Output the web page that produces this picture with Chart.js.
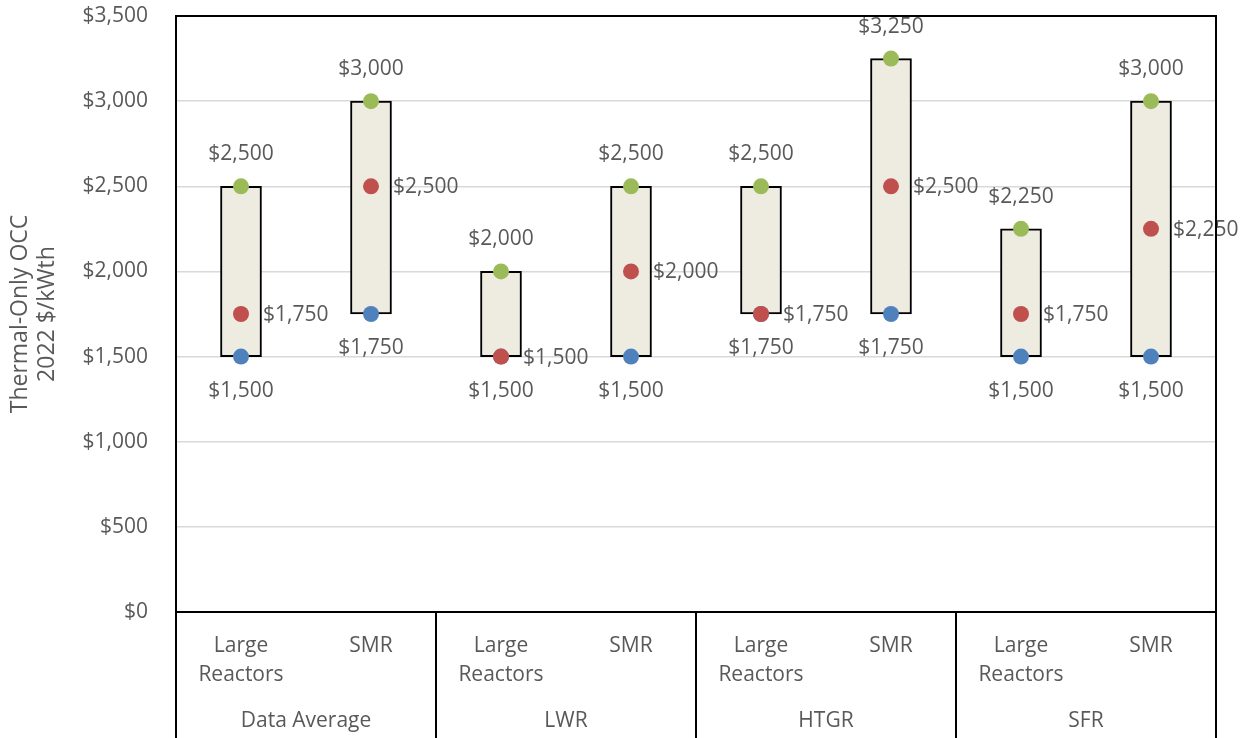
<!DOCTYPE html>
<html>
<head>
<meta charset="utf-8">
<script src="https://cdn.jsdelivr.net/npm/chart.js@4.4.0/dist/chart.umd.min.js"></script>
<style>
  body { margin: 0; background: #fff; }
  #wrap { width: 1247px; height: 738px; }
</style>
</head>
<body>
<div id="wrap"><canvas id="occChart" width="1247" height="738"></canvas></div>
<script>
const categories = [["Large", "Reactors"], "SMR", ["Large", "Reactors"], "SMR", ["Large", "Reactors"], "SMR", ["Large", "Reactors"], "SMR"];
const groups = ["Data Average", "LWR", "HTGR", "SFR"];
const minValues = [1500, 1750, 1500, 1500, 1750, 1750, 1500, 1500];
const midValues = [1750, 2500, 1500, 2000, 1750, 2500, 1750, 2250];
const maxValues = [2500, 3000, 2000, 2500, 2500, 3250, 2250, 3000];
const yTicks = [0, 500, 1000, 1500, 2000, 2500, 3000, 3500];

const FONT = "'Open Sans', 'Noto Sans', sans-serif";
const TEXT = "#595959";

function money(v) {
  return "$" + v.toLocaleString("en-US");
}

// etiquetas de valor em cima / embaixo / ao lado dos pontos
const pointLabels = {
  id: "pointLabels",
  afterDatasetsDraw(chart) {
    const ctx = chart.ctx;
    ctx.save();
    ctx.font = "21px " + FONT;
    ctx.fillStyle = TEXT;
    chart.data.datasets.forEach((ds, i) => {
      if (!ds.labelPos) return;
      const meta = chart.getDatasetMeta(i);
      meta.data.forEach((pt, j) => {
        const txt = money(ds.data[j]);
        if (ds.labelPos === "top") {
          ctx.textAlign = "center"; ctx.textBaseline = "middle";
          ctx.fillText(txt, pt.x, pt.y - 32);
        } else if (ds.labelPos === "bottom") {
          ctx.textAlign = "center"; ctx.textBaseline = "middle";
          ctx.fillText(txt, pt.x, pt.y + 34);
        } else {
          ctx.textAlign = "left"; ctx.textBaseline = "middle";
          ctx.fillText(txt, pt.x + 22, pt.y + 1);
        }
      });
    });
    ctx.restore();
  }
};

// moldura, separadores e nomes dos grupos
const frame = {
  id: "frame",
  afterDraw(chart) {
    const ctx = chart.ctx;
    const a = chart.chartArea;
    const x = chart.scales.x;
    ctx.save();
    ctx.strokeStyle = "#000";
    ctx.lineWidth = 2;
    ctx.strokeRect(a.left, a.top, a.right - a.left, a.bottom - a.top);
    const bounds = [a.left];
    for (let g = 1; g < groups.length; g++) {
      bounds.push((x.getPixelForValue(g * 2 - 1) + x.getPixelForValue(g * 2)) / 2);
    }
    bounds.push(a.right);
    ctx.beginPath();
    bounds.forEach(b => {
      ctx.moveTo(b, a.bottom);
      ctx.lineTo(b, chart.height);
    });
    ctx.stroke();
    ctx.font = "21px " + FONT;
    ctx.fillStyle = TEXT;
    ctx.textAlign = "center";
    ctx.textBaseline = "middle";
    groups.forEach((g, i) => {
      ctx.fillText(g, (bounds[i] + bounds[i + 1]) / 2, 721);
    });
    ctx.restore();
  }
};

new Chart(document.getElementById("occChart"), {
  type: "bar",
  data: {
    labels: categories,
    datasets: [
      {
        type: "line", data: maxValues, showLine: false, order: 1,
        pointRadius: 8, pointHoverRadius: 8, pointBorderWidth: 0,
        pointBackgroundColor: "#9BBB59", borderColor: "#9BBB59", labelPos: "top"
      },
      {
        type: "line", data: midValues, showLine: false, order: 2,
        pointRadius: 8, pointHoverRadius: 8, pointBorderWidth: 0,
        pointBackgroundColor: "#C0504D", borderColor: "#C0504D", labelPos: "right"
      },
      {
        type: "line", data: minValues, showLine: false, order: 3,
        pointRadius: 8, pointHoverRadius: 8, pointBorderWidth: 0,
        pointBackgroundColor: "#4F81BD", borderColor: "#4F81BD", labelPos: "bottom"
      },
      {
        type: "bar", order: 10,
        data: minValues.map((v, i) => [v, maxValues[i]]),
        backgroundColor: "#EEECE1", borderColor: "#000", borderWidth: 2,
        borderSkipped: false, barThickness: 41
      }
    ]
  },
  options: {
    responsive: false,
    devicePixelRatio: 1,
    animation: false,
    layout: { padding: { top: 16, right: 31, left: 0, bottom: 0 } },
    plugins: { legend: { display: false }, tooltip: { enabled: false } },
    scales: {
      x: {
        grid: { display: false },
        border: { display: false },
        ticks: {
          color: TEXT, padding: 12, maxRotation: 0, autoSkip: false,
          font: { family: FONT, size: 21, lineHeight: 1.38 }
        },
        afterFit: s => { s.height = 126; s.paddingLeft = 0; s.paddingRight = 0; }
      },
      y: {
        min: 0, max: 3500,
        afterBuildTicks: s => { s.ticks = yTicks.map(v => ({ value: v })); },
        grid: { color: "#D9D9D9", lineWidth: 1.5, drawTicks: false },
        border: { display: false },
        ticks: {
          color: TEXT, padding: 28,
          font: { family: FONT, size: 21 },
          callback: v => money(v)
        },
        title: {
          display: true, text: ["Thermal-Only OCC", "2022 $/kWth"], color: TEXT,
          font: { family: FONT, size: 23, lineHeight: 1.17 },
          padding: { top: 7, bottom: 0 }
        },
        afterFit: s => { s.width = 176; s.paddingTop = 0; s.paddingBottom = 0; }
      }
    }
  },
  plugins: [pointLabels, frame]
});
</script>
</body>
</html>
